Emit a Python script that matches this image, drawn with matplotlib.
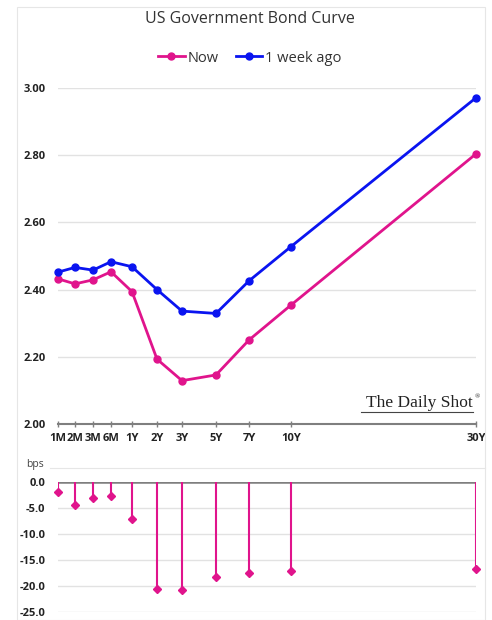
import numpy as np
import matplotlib
matplotlib.use("Agg")
import matplotlib.pyplot as plt
from matplotlib.lines import Line2D
from matplotlib.patches import Rectangle

# Данные
tenors = ["1M", "2M", "3M", "6M", "1Y", "2Y", "3Y", "5Y", "7Y", "10Y", "30Y"]
years = [1 / 12, 2 / 12, 3 / 12, 0.5, 1, 2, 3, 5, 7, 10, 30]
now = [2.432, 2.417, 2.429, 2.453, 2.394, 2.193, 2.129, 2.146, 2.250, 2.354, 2.804]
week_ago = [2.452, 2.466, 2.458, 2.483, 2.468, 2.400, 2.336, 2.329, 2.426, 2.528, 2.971]
change_bps = [-1.9, -4.5, -3.1, -2.7, -7.2, -20.5, -20.7, -18.2, -17.5, -17.1, -16.8]

pink = "#E0148C"
blue = "#0A14F0"
grid_c = "#E2E2E2"
axis_c = "#7F7F7F"

# нелинейная шкала сроков как в Excel-графике
anchor_y = np.array(years)
anchor_p = np.array([0, 17, 35, 53, 74, 99, 124, 158, 191, 233, 418], dtype=float)


def fwd(v):
    return np.interp(v, anchor_y, anchor_p, left=-1e3, right=1e3)


def inv(v):
    return np.interp(v, anchor_p, anchor_y)


W, H = 492, 620
fig = plt.figure(figsize=(W / 100, H / 100), dpi=100)
plt.rcParams["font.family"] = ["Open Sans", "DejaVu Sans"]
tick_font = dict(fontsize=8, fontweight="bold", fontstretch="condensed")

# рамка
fig.add_artist(Rectangle((17 / W, 0), (485 - 17) / W, 1 - 7 / H, transform=fig.transFigure,
                         fill=False, edgecolor="#E6E6E6", lw=0.8))
fig.add_artist(Line2D([50 / W, 485 / W], [1 - 468 / H] * 2, transform=fig.transFigure,
                      color="#E6E6E6", lw=0.8))

# ---- верхний график ----
ax = fig.add_axes([58 / W, 1 - 424 / H, (476 - 58) / W, (424 - 88) / H])
ax.set_xscale("function", functions=(fwd, inv))
ax.plot(years, now, color=pink, lw=2, marker="o", ms=5, label="Now", clip_on=False, zorder=3)
ax.plot(years, week_ago, color=blue, lw=2, marker="o", ms=5, label="1 week ago", clip_on=False, zorder=3)
ax.set_xlim(years[0], years[-1])
ax.set_ylim(2.0, 3.0)
ax.set_yticks(np.arange(2.0, 3.01, 0.2))
ax.set_yticklabels([f"{v:.2f}" for v in np.arange(2.0, 3.01, 0.2)], **tick_font)
ax.set_xticks(years)
ax.set_xticklabels(tenors, **tick_font)
ax.xaxis.set_minor_locator(plt.NullLocator())
ax.grid(axis="y", color=grid_c, lw=1)
ax.set_axisbelow(True)
for s in ["top", "right", "left"]:
    ax.spines[s].set_visible(False)
ax.spines["bottom"].set_color(axis_c)
ax.spines["bottom"].set_linewidth(1.5)
ax.tick_params(axis="y", length=0, pad=9, colors="#222222")
ax.tick_params(axis="x", direction="inout", length=5, color=axis_c, width=1, pad=4, labelcolor="#222222")

fig.text(250 / W, 1 - 19 / H, "US Government Bond Curve", ha="center", va="center", fontsize=11.5, color="#333333")
fig.legend(loc="center", bbox_to_anchor=(250 / W, 1 - 58 / H), ncol=2, frameon=False, fontsize=10.5,
           handlelength=1.8, handletextpad=0.2, columnspacing=1.2, labelcolor="#333333")

fig.text(473 / W, 1 - 403 / H, "The Daily Shot", ha="right", va="center", fontsize=12.5,
         family="Liberation Serif", color="#222222", fontstretch="condensed")
fig.text(475 / W, 1 - 397 / H, "\u00ae", ha="left", va="center", fontsize=5, family="Liberation Serif",
         color="#222222")
fig.add_artist(Line2D([361 / W, 473 / W], [1 - 412 / H] * 2, transform=fig.transFigure,
                      color="#444444", lw=0.8))

# ---- нижний график ----
bx = fig.add_axes([58 / W, 1 - 612.3 / H, (476 - 58) / W, (612.3 - 481.7) / H])
bx.set_xscale("function", functions=(fwd, inv))
bx.vlines(years, 0, change_bps, color=pink, lw=1.5, zorder=3)
bx.plot(years, change_bps, ls="none", marker="D", ms=4, color=pink, clip_on=False, zorder=4)
bx.axhline(0, color=axis_c, lw=1.8, zorder=2)
bx.set_xlim(years[0], years[-1])
bx.set_ylim(-25, 0)
bx.set_yticks(np.arange(-25, 0.1, 5))
bx.set_yticklabels([f"{v:.1f}" for v in np.arange(-25, 0.1, 5)], **tick_font)
bx.set_xticks([])
bx.xaxis.set_minor_locator(plt.NullLocator())
bx.grid(axis="y", color=grid_c, lw=1)
bx.set_axisbelow(True)
for s in bx.spines.values():
    s.set_visible(False)
bx.tick_params(axis="y", length=0, pad=9, colors="#222222")
fig.text(26 / W, 1 - 464 / H, "bps", fontsize=7.5, va="center", color="#444444")

fig.savefig("out.png", dpi=100)
